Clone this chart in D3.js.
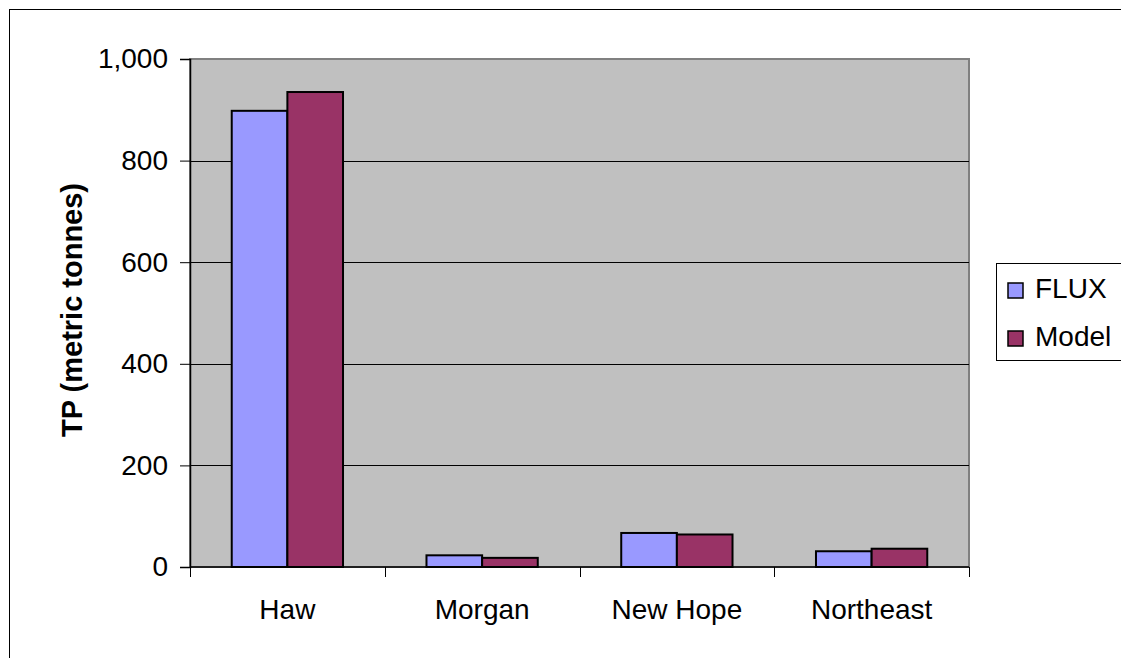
<!DOCTYPE html>
<html>
<head>
<meta charset="utf-8">
<script src="https://cdn.jsdelivr.net/npm/d3@7"></script>
<style>
  html, body { margin: 0; padding: 0; background: #fff; }
  svg { display: block; font-family: "Liberation Sans", Arial, sans-serif; }
</style>
</head>
<body>
<svg id="chart" width="1121" height="658"></svg>
<script>
// Total phosphorus load by watershed
const categories = ["Haw", "Morgan", "New Hope", "Northeast"];
const seriesNames = ["FLUX", "Model"];
const fluxValues = [898, 23, 67, 31];
const modelValues = [935, 18, 64, 36];
const yTicks = [0, 200, 400, 600, 800, 1000];
const colors = ["#9999FF", "#993366"];

const svg = d3.select("#chart");
const plot = { left: 190, right: 969, top: 59, bottom: 567 };
const FS = 28;

// outer chart frame
svg.append("rect")
  .attr("x", 9.5).attr("y", 9.5)
  .attr("width", 1300).attr("height", 1000)
  .attr("fill", "#fff").attr("stroke", "#000").attr("stroke-width", 1);

const x = d3.scaleBand().domain(categories).range([plot.left, plot.right]).padding(0);
const x1 = d3.scaleBand().domain(seriesNames)
  .range([0, x.bandwidth()]).paddingInner(0).paddingOuter(0.75);
const y = d3.scaleLinear().domain([0, 1000]).range([plot.bottom, plot.top]);

// plot background
svg.append("rect")
  .attr("x", plot.left).attr("y", plot.top)
  .attr("width", plot.right - plot.left).attr("height", plot.bottom - plot.top)
  .attr("fill", "#C0C0C0").attr("stroke", "#808080").attr("stroke-width", 2);

// horizontal gridlines
svg.append("g").selectAll("line")
  .data(yTicks.filter(d => d > 0 && d < 1000))
  .join("line")
  .attr("x1", plot.left).attr("x2", plot.right)
  .attr("y1", d => Math.round(y(d)) + 0.5).attr("y2", d => Math.round(y(d)) + 0.5)
  .attr("stroke", "#000").attr("stroke-width", 1);

// bars
const rows = categories.map((c, i) => ({ cat: c, vals: [fluxValues[i], modelValues[i]] }));
const groups = svg.append("g").selectAll("g")
  .data(rows).join("g")
  .attr("transform", d => `translate(${x(d.cat)},0)`);
groups.selectAll("rect")
  .data(d => d.vals.map((v, j) => ({ name: seriesNames[j], v, j })))
  .join("rect")
  .attr("x", d => x1(d.name))
  .attr("width", x1.bandwidth())
  .attr("y", d => y(d.v))
  .attr("height", d => y(0) - y(d.v))
  .attr("fill", d => colors[d.j])
  .attr("stroke", "#000").attr("stroke-width", 2);

// y axis
const yAxis = d3.axisLeft(y).tickValues(yTicks).tickSize(10).tickPadding(12)
  .tickFormat(d3.format(","));
const gy = svg.append("g").attr("transform", `translate(${plot.left},0)`).call(yAxis);
gy.select(".domain").attr("stroke", "#000").attr("stroke-width", 1.5);
gy.selectAll(".tick line").attr("stroke", "#000");
gy.selectAll(".tick text").attr("font-size", FS).attr("fill", "#000")
  .attr("font-family", "Liberation Sans, Arial, sans-serif");

// x axis: ticks at category boundaries
const gx = svg.append("g").attr("transform", `translate(0,${plot.bottom})`);
gx.append("line")
  .attr("x1", plot.left).attr("x2", plot.right)
  .attr("y1", 0).attr("y2", 0)
  .attr("stroke", "#000").attr("stroke-width", 1.5);
const bounds = categories.map(c => x(c)).concat([x(categories[categories.length - 1]) + x.bandwidth()]);
gx.selectAll("line.tk").data(bounds).join("line").attr("class", "tk")
  .attr("x1", d => Math.round(d) + 0.5).attr("x2", d => Math.round(d) + 0.5)
  .attr("y1", 0).attr("y2", 10).attr("stroke", "#000");
gx.selectAll("text").data(categories).join("text")
  .attr("x", d => x(d) + x.bandwidth() / 2)
  .attr("y", 52)
  .attr("text-anchor", "middle")
  .attr("font-size", FS)
  .attr("fill", "#000")
  .text(d => d);

// y axis title
svg.append("text")
  .attr("transform", `translate(82,310) rotate(-90)`)
  .attr("text-anchor", "middle")
  .attr("font-size", 29)
  .attr("font-weight", "bold")
  .attr("fill", "#000")
  .text("TP (metric tonnes)");

// legend
const lg = svg.append("g");
lg.append("rect")
  .attr("x", 996.5).attr("y", 263.5)
  .attr("width", 200).attr("height", 97)
  .attr("fill", "#fff").attr("stroke", "#000").attr("stroke-width", 1);
const items = lg.selectAll("g.item").data(seriesNames).join("g").attr("class", "item")
  .attr("transform", (d, i) => `translate(1008,${283 + i * 48})`);
items.append("rect")
  .attr("width", 15).attr("height", 15)
  .attr("fill", (d, i) => colors[i])
  .attr("stroke", "#000").attr("stroke-width", 1.5);
items.append("text")
  .attr("x", 27).attr("y", 15)
  .attr("font-size", FS)
  .attr("fill", "#000")
  .text(d => d);
</script>
</body>
</html>
